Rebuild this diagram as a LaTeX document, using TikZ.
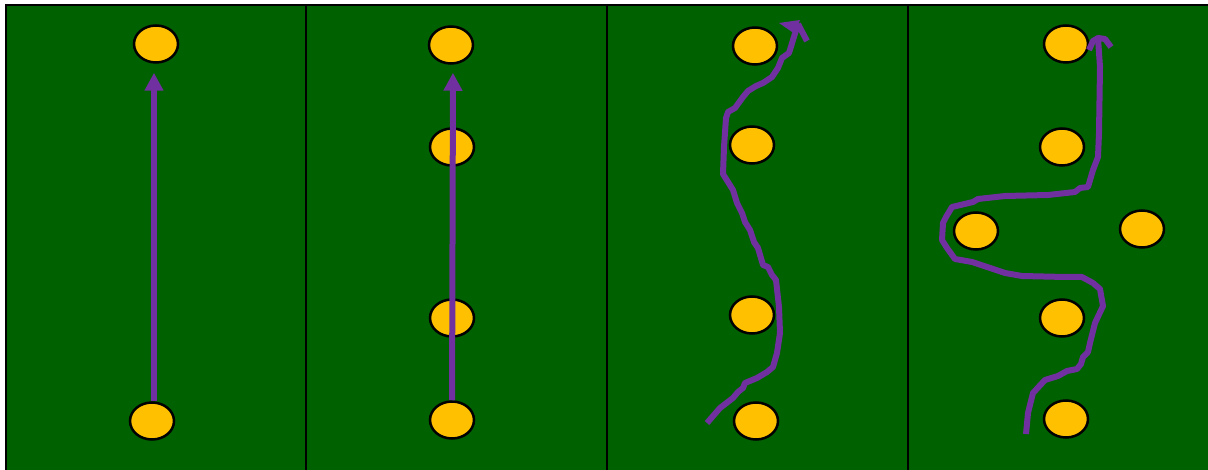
\documentclass[tikz,border=0pt]{standalone}
\usepackage{tikz}
\usetikzlibrary{shapes.geometric,arrows.meta}

\definecolor{field}{RGB}{0,97,0}
\definecolor{cone}{RGB}{255,192,0}
\definecolor{route}{RGB}{112,48,160}

\begin{document}
\begin{tikzpicture}[x=1pt, y=-1pt,
    player/.style={ellipse, draw=black, line width=2.5pt, fill=cone,
        minimum width=44pt, minimum height=37pt, inner sep=0pt},
    run/.style={draw=route, line width=6pt, line join=round},
    runarrow/.style={run, -{Triangle[width=18pt,length=18pt]}}]

            \useasboundingbox (0, 0) rectangle (1208, 470);

            % field and the four lanes
            \fill[field] (6, 5) rectangle (1208, 470);
            \draw[line width=2pt] (6, 470) -- (6, 5) -- (1208, 5);
            \foreach \x in {306, 607, 908}
                \draw[line width=2pt] (\x, 5) -- (\x, 470);

            % lane 1
            \node[player] (p1a) at (156, 44) {};
            \node[player] (p1b) at (152, 421) {};
            \draw[runarrow, shorten >=9pt] ([xshift=2pt]p1b.north) -- ([xshift=-2pt]p1a.south);

            % lane 2
            \node[player] (p2a) at (451, 45) {};
            \node[player] (p2b) at (452, 147) {};
            \node[player] (p2c) at (452, 318) {};
            \node[player] (p2d) at (452, 420) {};
            \draw[runarrow, shorten >=8pt] (p2d) -- ([xshift=2pt]p2a.south);

            % lane 3
            \node[player] (p3a) at (755, 46) {};
            \node[player] (p3b) at (752, 145) {};
            \node[player] (p3c) at (752, 315) {};
            \node[player] (p3d) at (756, 421) {};
            \coordinate (s3) at (707, 423);
            \coordinate (e3) at (798, 24);
            \draw[run] (s3) -- (720, 408) -- (733, 398) -- (738, 392) -- (743, 388)
                -- (745, 383) -- (757, 378) -- (767, 372) -- (773, 367) -- (777, 353)
                -- (780, 333) -- (779, 307) -- (776, 280) -- (772, 275) -- (768, 267)
                -- (763, 265) -- (758, 248) -- (754, 242) -- (750, 230) -- (745, 222)
                -- (742, 213) -- (737, 203) -- (733, 190) -- (728, 182) -- (723, 174)
                -- (724, 147) -- (726, 118) -- (728, 112) -- (735, 108) -- (743, 97)
                -- (748, 91) -- (756, 86) -- (763, 83) -- (772, 77) -- (778, 68)
                -- (782, 58) -- (789, 53) -- (793, 40) -- (e3);
            \fill[route] (779, 23) -- (800, 20) -- (795, 34) -- cycle;
            \draw[run] (e3) -- (807, 41);

            % lane 4
            \node[player] (p4a) at (1066, 44) {};
            \node[player] (p4b) at (1062, 147) {};
            \node[player] (p4c) at (976, 231) {};
            \node[player] (p4d) at (1142, 229) {};
            \node[player] (p4e) at (1062, 318) {};
            \node[player] (p4f) at (1066, 419) {};
            \coordinate (s4) at (1026, 434);
            \coordinate (e4) at (1098, 38);
            \draw[run] (s4) -- (1028, 413) -- (1033, 393) -- (1045, 380) -- (1058, 376)
                -- (1067, 371) -- (1077, 369) -- (1081, 364) -- (1083, 357) -- (1088, 352)
                -- (1090, 343) -- (1095, 323) -- (1103, 306) -- (1100, 289) -- (1093, 283)
                -- (1082, 277) -- (1065, 277) -- (1022, 276) -- (1005, 273) -- (972, 262)
                -- (955, 259) -- (947, 248) -- (942, 240) -- (943, 223) -- (946, 217)
                -- (952, 207) -- (973, 202) -- (978, 199) -- (1005, 196) -- (1048, 195)
                -- (1075, 192) -- (1080, 188) -- (1088, 187) -- (1093, 170) -- (1098, 157)
                -- (1099, 133) -- (1100, 67) -- (e4);
            \draw[run] (1089, 50) -- (1093, 41) -- (e4) -- (1105, 39) -- (1111, 47);

        \end{tikzpicture}
\end{document}
